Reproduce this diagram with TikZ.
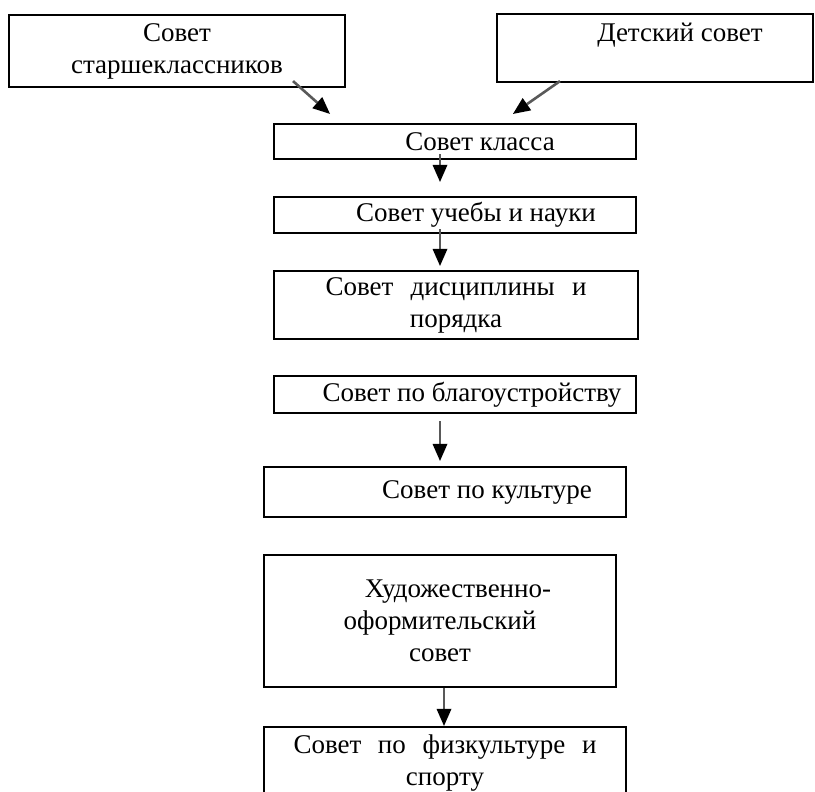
\documentclass[tikz,border=0pt]{standalone}
\usepackage{fontspec}
\setmainfont{Liberation Serif}
\usetikzlibrary{calc,arrows.meta}

\tikzset{
  box/.style = {draw, line width=2.2pt, inner sep=0pt, align=center,
    font=\fontsize{27}{32}\selectfont},
  arr/.style = {line width=2.6pt, draw=black!65,
    -{Triangle[length=17pt,width=15pt,fill=black,line width=0pt]}},
}

\begin{document}
\begin{tikzpicture}[x=1pt, y=-1pt]
    \useasboundingbox (0,0) rectangle (815,792);
    \node[box, minimum width=336pt, minimum height=72pt] (st) at (177,51) {Совет\\старшеклассников};
    \node[box, minimum width=316pt, minimum height=68pt] (det) at (655,48) {\hspace*{50pt}Детский совет\\\mbox{}};
    \node[box, minimum width=362pt, minimum height=35pt] (kl) at (455,141.5) {\hspace*{50pt}Совет класса};
    \node[box, minimum width=362pt, minimum height=36pt] (uch) at (455,215) {\hspace*{42pt}Совет учебы и науки};
    \node[box, minimum width=364pt, minimum height=68pt] (dis) at (456,305) {\makebox[261pt]{Совет\hfill дисциплины\hfill и}\\порядка};
    \node[box, minimum width=362pt, minimum height=37pt] (bl) at (455,394.5) {\hspace*{34pt}Совет по благоустройству};
    \node[box, minimum width=362pt, minimum height=50pt] (kul) at (445,492) {\hspace*{84pt}Совет по культуре};
    \node[box, minimum width=352pt, minimum height=132pt] (hud) at (440,621) {\hspace*{36pt}Художественно-\\оформительский\\совет};
    \node[box, minimum width=362pt, minimum height=72pt] (fiz) at (445,763) {\makebox[303pt]{Совет\hfill по\hfill физкультуре\hfill и}\\спорту};
    \draw[arr] ($(st.south) + (116,-7)$) -- ($(kl.north) + (-125,-9)$);
    \draw[arr] ($(det.south) + (-95,-2)$) -- ($(kl.north) + (58,-9)$);
    \draw[arr] ($(kl.south) + (-15,-6)$) -- ($(uch.north) + (-15,-14)$);
    \draw[arr] ($(uch.south) + (-15,-5)$) -- ($(dis.north) + (-16,-4)$);
    \draw[arr] ($(bl.south) + (-15,7)$) -- ($(kul.north) + (-5,-5)$);
    \draw[arr] ($(hud.south) + (4,0)$) -- ($(fiz.north) + (-1,0)$);
\end{tikzpicture}
\end{document}
